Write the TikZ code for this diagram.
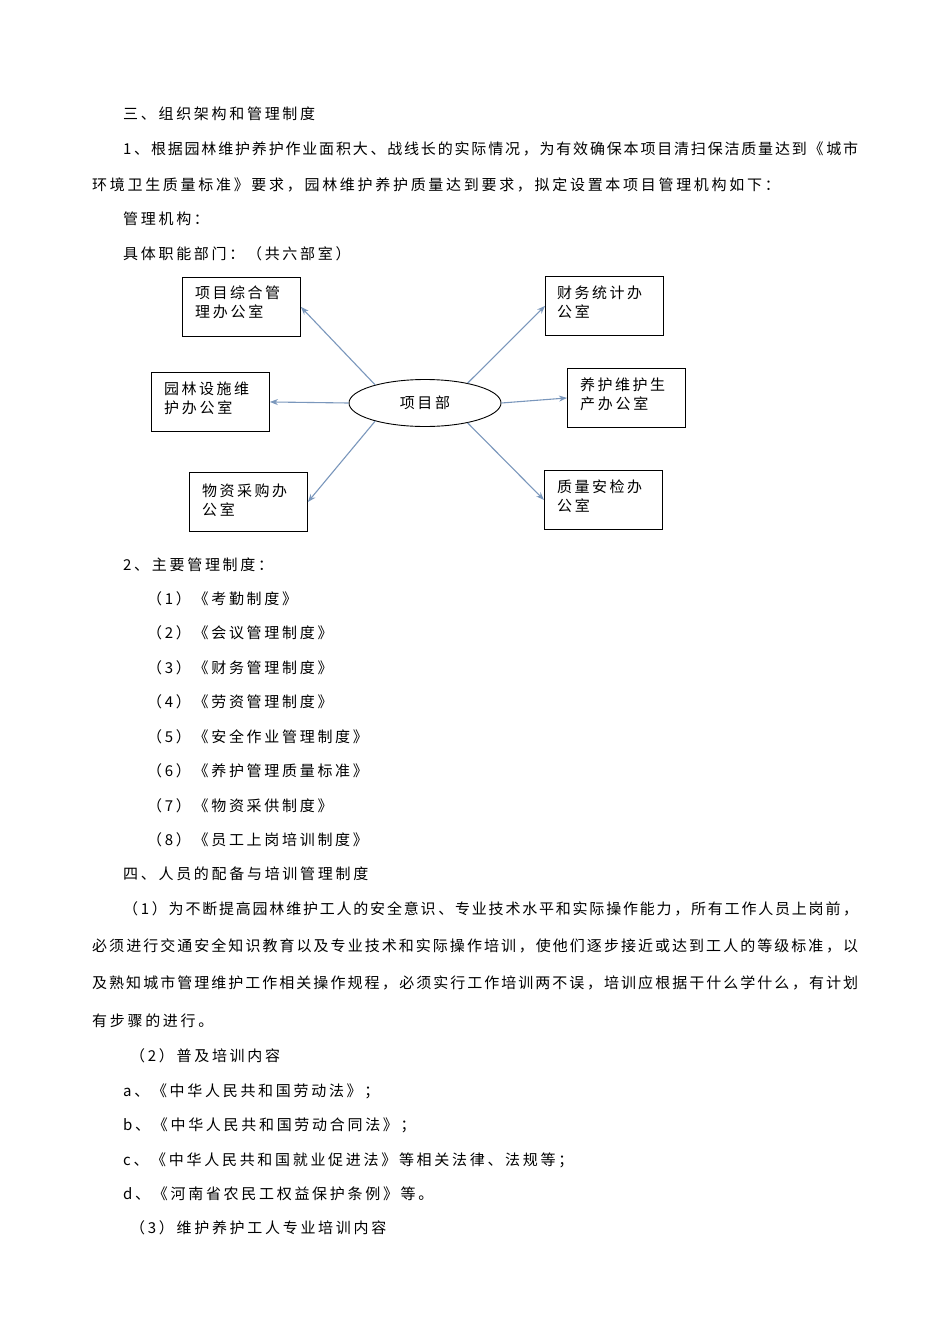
\documentclass[tikz,border=0pt]{standalone}
\usepackage{fontspec}
\setmainfont{Noto Sans CJK SC}[LetterSpace=18]
\XeTeXlinebreaklocale "zh"
\XeTeXlinebreakskip=0pt plus 3pt
\usetikzlibrary{arrows.meta,shapes.geometric}
\definecolor{arr}{HTML}{7A97BC}
\newcommand{\jline}[2]{\parbox[b]{#1}{\parfillskip=0pt\parindent=0pt #2}}
\begin{document}
\begin{tikzpicture}[x=1pt,y=-1pt,
  every node/.style={inner sep=0pt,font=\fontsize{15}{18}\selectfont},
  tl/.style={anchor=base west},
  bx/.style={draw,line width=0.9pt,minimum width=118pt,minimum height=59pt,anchor=north west},
  ar/.style={draw=arr,line width=1.1pt,-{Stealth[length=8pt,width=6pt]}}]
\fill[white] (0,0) rectangle (950,1344);
\node[tl] (l1) at (123,119) {三、组织架构和管理制度};
\node[tl] (l2) at (123,154) {\jline{735pt}{1、根据园林维护养护作业面积大、战线长的实际情况，为有效确保本项目清扫保洁质量达到《城市}};
\node[tl] (l3) at (92,190) {环境卫生质量标准》要求，园林维护养护质量达到要求，拟定设置本项目管理机构如下：};
\node[tl] (l4) at (123,224) {管理机构：};
\node[tl] (l5) at (123,259) {具体职能部门：（共六部室）};
% diagram
\node[draw,line width=0.9pt,ellipse,minimum width=152pt,minimum height=47pt] (e) at (425,403) {项目部};
\node[bx] (b1) at (182,277) {};
\node[bx] (b2) at (545,276) {};
\node[bx] (b3) at (151,372) {};
\node[bx] (b4) at (567,368) {};
\node[bx] (b5) at (189,472) {};
\node[bx] (b6) at (544,470) {};
\node[tl] (t1a) at (195,298) {项\,目\,综\,合\,管};
\node[tl] (t1b) at (195,317) {理办公室};
\node[tl] (t2a) at (557,298) {财\,务\,统\,计\,办};
\node[tl] (t2b) at (557,317) {公室};
\node[tl] (t3a) at (164,394) {园\,林\,设\,施\,维};
\node[tl] (t3b) at (164,413) {护办公室};
\node[tl] (t4a) at (580,390) {养\,护\,维\,护\,生};
\node[tl] (t4b) at (580,409) {产办公室};
\node[tl] (t5a) at (202,496) {物\,资\,采\,购\,办};
\node[tl] (t5b) at (202,515) {公室};
\node[tl] (t6a) at (557,492) {质\,量\,安\,检\,办};
\node[tl] (t6b) at (557,511) {公室};
\draw[ar] (e.160) -- (b1.east);
\draw[ar] (e.180) -- (b3.east);
\draw[ar] (e.200) -- (b5.east);
\draw[ar] (e.25) -- (b2.west);
\draw[ar] (e.0) -- (b4.west);
\draw[ar] (e.-25) -- (b6.west);
% list
\node[tl] (m0) at (123,570) {2、主要管理制度：};
\node[tl] (m1) at (147,604) {（1）《考勤制度》};
\node[tl] (m2) at (147,638) {（2）《会议管理制度》};
\node[tl] (m3) at (147,673) {（3）《财务管理制度》};
\node[tl] (m4) at (147,707) {（4）《劳资管理制度》};
\node[tl] (m5) at (147,742) {（5）《安全作业管理制度》};
\node[tl] (m6) at (147,776) {（6）《养护管理质量标准》};
\node[tl] (m7) at (147,811) {（7）《物资采供制度》};
\node[tl] (m8) at (147,845) {（8）《员工上岗培训制度》};
\node[tl] (s4) at (123,879) {四、人员的配备与培训管理制度};
\node[tl] (p1) at (123,914) {\jline{735pt}{（1）为不断提高园林维护工人的安全意识、专业技术水平和实际操作能力，所有工作人员上岗前，}};
\node[tl] (p2) at (92,951) {\jline{766pt}{必须进行交通安全知识教育以及专业技术和实际操作培训，使他们逐步接近或达到工人的等级标准，以}};
\node[tl] (p3) at (92,988) {\jline{766pt}{及熟知城市管理维护工作相关操作规程，必须实行工作培训两不误，培训应根据干什么学什么，有计划}};
\node[tl] (p4) at (92,1026) {有步骤的进行。};
\node[tl] (q0) at (130,1061) {（2）普及培训内容};
\node[tl] (qa) at (123,1096) {a、《中华人民共和国劳动法》；};
\node[tl] (qb) at (123,1130) {b、《中华人民共和国劳动合同法》；};
\node[tl] (qc) at (123,1165) {c、《中华人民共和国就业促进法》等相关法律、法规等；};
\node[tl] (qd) at (123,1199) {d、《河南省农民工权益保护条例》等。};
\node[tl] (r0) at (130,1233) {（3）维护养护工人专业培训内容};
\end{tikzpicture}
\end{document}
